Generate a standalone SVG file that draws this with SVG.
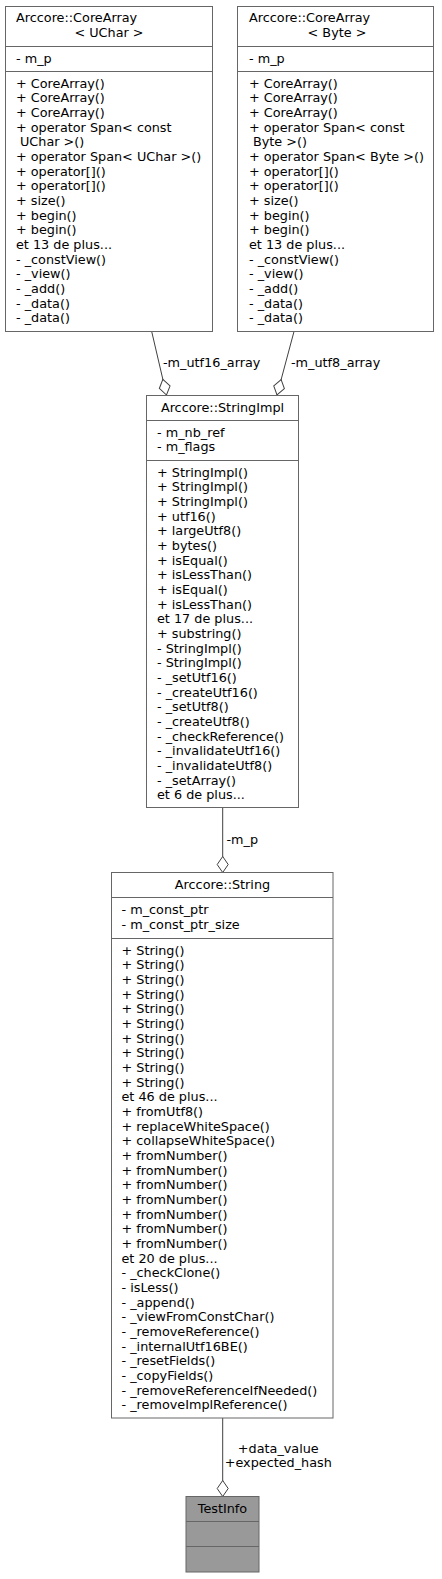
<svg xmlns="http://www.w3.org/2000/svg" width="442" height="1579" viewBox="0 0 442 1579">
<style>
text{font-family:"DejaVu Sans","Liberation Sans",sans-serif;font-size:12.8px;fill:#000}
.box{fill:#fff;stroke:#666;stroke-width:1}
.hl{fill:#999;stroke:#666;stroke-width:1}
.sep{stroke:#666;stroke-width:1}
.mid{text-anchor:middle}
.edge{fill:none;stroke:#404040;stroke-width:1;marker-end:url(#odiamond)}
</style>
<defs>
<marker id="odiamond" markerUnits="userSpaceOnUse" markerWidth="20" markerHeight="14" refX="17" refY="7" orient="auto" overflow="visible">
<path d="M1,7 L9,1.5 L17,7 L9,12.5 Z" fill="#fff" stroke="#404040" stroke-width="1"/>
</marker>
</defs>
<rect width="442" height="1579" fill="#fff"/>

<g id="edges">
<path class="edge" d="M151.7,331.5 L166.5,395"/>
<text x="163" y="367">-m_utf16_array</text>
<path class="edge" d="M294,331.5 L277,395"/>
<text x="291" y="367">-m_utf8_array</text>
<path class="edge" d="M222.7,807.5 L222.7,872.5"/>
<text x="226.5" y="844">-m_p</text>
<path class="edge" d="M222.7,1418 L222.7,1496.5"/>
<text class="mid" x="278.3" y="1452.5">+data_value</text>
<text class="mid" x="278.3" y="1467">+expected_hash</text>
</g>

<g id="node_uchar">
<rect class="box" x="5.5" y="6.5" width="207" height="325"/>
<line class="sep" x1="5.5" y1="46.5" x2="212.5" y2="46.5"/>
<line class="sep" x1="5.5" y1="71.5" x2="212.5" y2="71.5"/>
<text x="16" y="22">Arccore::CoreArray</text>
<text class="mid" x="109" y="36.7">&lt; UChar &gt;</text>
<text x="16" y="62.5">- m_p</text>
<text x="16" y="87.5">+ CoreArray()<tspan x="16" dy="14.67">+ CoreArray()</tspan><tspan x="16" dy="14.67">+ CoreArray()</tspan><tspan x="16" dy="14.67">+ operator Span&lt; const</tspan><tspan x="20" dy="14.67">UChar &gt;()</tspan><tspan x="16" dy="14.67">+ operator Span&lt; UChar &gt;()</tspan><tspan x="16" dy="14.67">+ operator[]()</tspan><tspan x="16" dy="14.67">+ operator[]()</tspan><tspan x="16" dy="14.67">+ size()</tspan><tspan x="16" dy="14.67">+ begin()</tspan><tspan x="16" dy="14.67">+ begin()</tspan><tspan x="16" dy="14.67">et 13 de plus...</tspan><tspan x="16" dy="14.67">- _constView()</tspan><tspan x="16" dy="14.67">- _view()</tspan><tspan x="16" dy="14.67">- _add()</tspan><tspan x="16" dy="14.67">- _data()</tspan><tspan x="16" dy="14.67">- _data()</tspan></text>
</g>

<g id="node_byte">
<rect class="box" x="237.5" y="6.5" width="196" height="325"/>
<line class="sep" x1="237.5" y1="46.5" x2="433.5" y2="46.5"/>
<line class="sep" x1="237.5" y1="71.5" x2="433.5" y2="71.5"/>
<text x="249" y="22">Arccore::CoreArray</text>
<text class="mid" x="337" y="36.7">&lt; Byte &gt;</text>
<text x="249" y="62.5">- m_p</text>
<text x="249" y="87.5">+ CoreArray()<tspan x="249" dy="14.67">+ CoreArray()</tspan><tspan x="249" dy="14.67">+ CoreArray()</tspan><tspan x="249" dy="14.67">+ operator Span&lt; const</tspan><tspan x="253" dy="14.67">Byte &gt;()</tspan><tspan x="249" dy="14.67">+ operator Span&lt; Byte &gt;()</tspan><tspan x="249" dy="14.67">+ operator[]()</tspan><tspan x="249" dy="14.67">+ operator[]()</tspan><tspan x="249" dy="14.67">+ size()</tspan><tspan x="249" dy="14.67">+ begin()</tspan><tspan x="249" dy="14.67">+ begin()</tspan><tspan x="249" dy="14.67">et 13 de plus...</tspan><tspan x="249" dy="14.67">- _constView()</tspan><tspan x="249" dy="14.67">- _view()</tspan><tspan x="249" dy="14.67">- _add()</tspan><tspan x="249" dy="14.67">- _data()</tspan><tspan x="249" dy="14.67">- _data()</tspan></text>
</g>

<g id="node_stringimpl">
<rect class="box" x="146.5" y="395.5" width="152" height="412"/>
<line class="sep" x1="146.5" y1="420.5" x2="298.5" y2="420.5"/>
<line class="sep" x1="146.5" y1="460.5" x2="298.5" y2="460.5"/>
<text class="mid" x="222.5" y="411.5">Arccore::StringImpl</text>
<text x="157" y="436.5">- m_nb_ref<tspan x="157" dy="14.67">- m_flags</tspan></text>
<text x="157" y="476.5">+ StringImpl()<tspan x="157" dy="14.67">+ StringImpl()</tspan><tspan x="157" dy="14.67">+ StringImpl()</tspan><tspan x="157" dy="14.67">+ utf16()</tspan><tspan x="157" dy="14.67">+ largeUtf8()</tspan><tspan x="157" dy="14.67">+ bytes()</tspan><tspan x="157" dy="14.67">+ isEqual()</tspan><tspan x="157" dy="14.67">+ isLessThan()</tspan><tspan x="157" dy="14.67">+ isEqual()</tspan><tspan x="157" dy="14.67">+ isLessThan()</tspan><tspan x="157" dy="14.67">et 17 de plus...</tspan><tspan x="157" dy="14.67">+ substring()</tspan><tspan x="157" dy="14.67">- StringImpl()</tspan><tspan x="157" dy="14.67">- StringImpl()</tspan><tspan x="157" dy="14.67">- _setUtf16()</tspan><tspan x="157" dy="14.67">- _createUtf16()</tspan><tspan x="157" dy="14.67">- _setUtf8()</tspan><tspan x="157" dy="14.67">- _createUtf8()</tspan><tspan x="157" dy="14.67">- _checkReference()</tspan><tspan x="157" dy="14.67">- _invalidateUtf16()</tspan><tspan x="157" dy="14.67">- _invalidateUtf8()</tspan><tspan x="157" dy="14.67">- _setArray()</tspan><tspan x="157" dy="14.67">et 6 de plus...</tspan></text>
</g>

<g id="node_string">
<rect class="box" x="111.5" y="872.5" width="221.5" height="545.5"/>
<line class="sep" x1="111.5" y1="897.5" x2="333" y2="897.5"/>
<line class="sep" x1="111.5" y1="938.5" x2="333" y2="938.5"/>
<text class="mid" x="222.5" y="888.5">Arccore::String</text>
<text x="121.5" y="914">- m_const_ptr<tspan x="121.5" dy="14.67">- m_const_ptr_size</tspan></text>
<text x="121.5" y="954.5">+ String()<tspan x="121.5" dy="14.67">+ String()</tspan><tspan x="121.5" dy="14.67">+ String()</tspan><tspan x="121.5" dy="14.67">+ String()</tspan><tspan x="121.5" dy="14.67">+ String()</tspan><tspan x="121.5" dy="14.67">+ String()</tspan><tspan x="121.5" dy="14.67">+ String()</tspan><tspan x="121.5" dy="14.67">+ String()</tspan><tspan x="121.5" dy="14.67">+ String()</tspan><tspan x="121.5" dy="14.67">+ String()</tspan><tspan x="121.5" dy="14.67">et 46 de plus...</tspan><tspan x="121.5" dy="14.67">+ fromUtf8()</tspan><tspan x="121.5" dy="14.67">+ replaceWhiteSpace()</tspan><tspan x="121.5" dy="14.67">+ collapseWhiteSpace()</tspan><tspan x="121.5" dy="14.67">+ fromNumber()</tspan><tspan x="121.5" dy="14.67">+ fromNumber()</tspan><tspan x="121.5" dy="14.67">+ fromNumber()</tspan><tspan x="121.5" dy="14.67">+ fromNumber()</tspan><tspan x="121.5" dy="14.67">+ fromNumber()</tspan><tspan x="121.5" dy="14.67">+ fromNumber()</tspan><tspan x="121.5" dy="14.67">+ fromNumber()</tspan><tspan x="121.5" dy="14.67">et 20 de plus...</tspan><tspan x="121.5" dy="14.67">- _checkClone()</tspan><tspan x="121.5" dy="14.67">- isLess()</tspan><tspan x="121.5" dy="14.67">- _append()</tspan><tspan x="121.5" dy="14.67">- _viewFromConstChar()</tspan><tspan x="121.5" dy="14.67">- _removeReference()</tspan><tspan x="121.5" dy="14.67">- _internalUtf16BE()</tspan><tspan x="121.5" dy="14.67">- _resetFields()</tspan><tspan x="121.5" dy="14.67">- _copyFields()</tspan><tspan x="121.5" dy="14.67">- _removeReferenceIfNeeded()</tspan><tspan x="121.5" dy="14.67">- _removeImplReference()</tspan></text>
</g>

<g id="node_testinfo">
<rect class="hl" x="186" y="1496.5" width="73" height="75.5"/>
<line class="sep" x1="186" y1="1521.5" x2="259" y2="1521.5"/>
<line class="sep" x1="186" y1="1546.5" x2="259" y2="1546.5"/>
<text class="mid" x="222.5" y="1512.5">TestInfo</text>
</g>
</svg>
